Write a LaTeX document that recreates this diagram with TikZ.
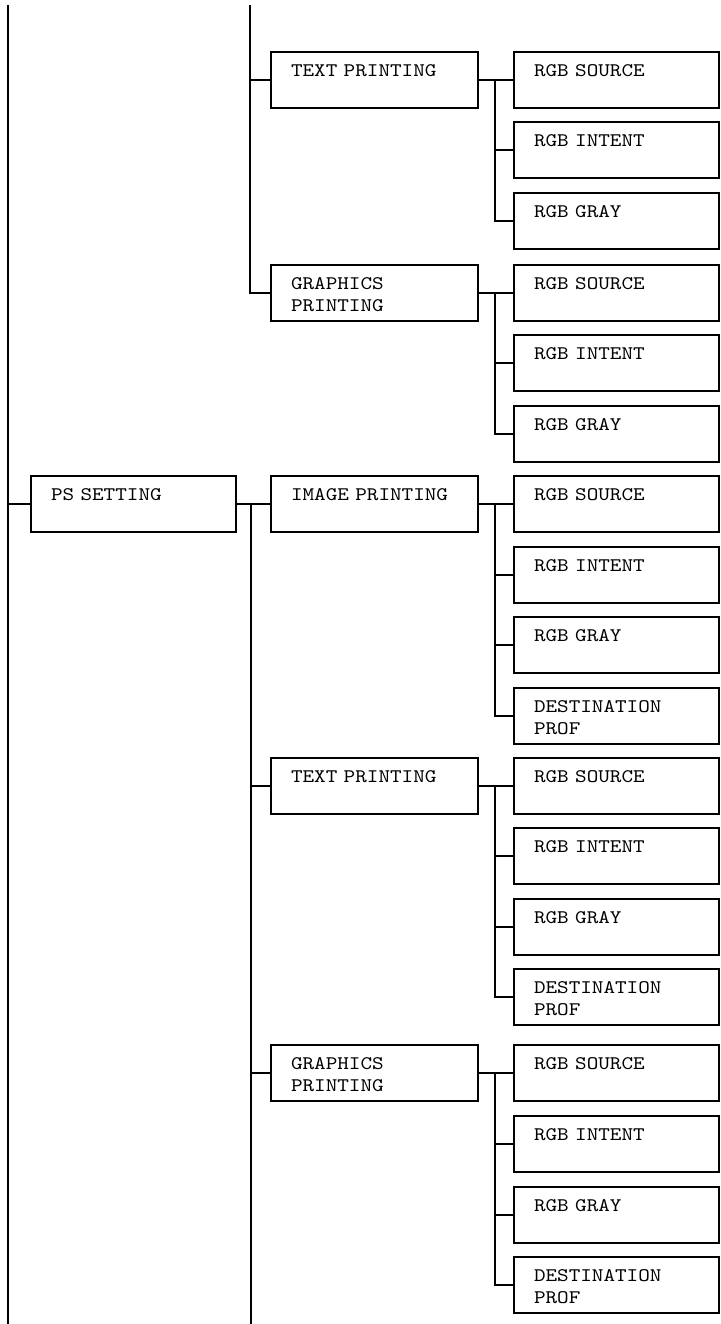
\documentclass[tikz,border=0pt]{standalone}
\usepackage{fontspec}
\newfontfamily\cajafont[FakeStretch=1.15]{lmmono10-regular.otf}

\tikzset{
  caja/.style={draw, line width=1pt, anchor=north west,
    inner xsep=10pt, inner ysep=0pt, text height=12pt, text depth=16pt,
    align=left, text width=82.5pt,
    font=\cajafont\fontsize{9.6pt}{11.25pt}\selectfont},
  cajaancha/.style={caja, text width=83.5pt},
  rama/.style={line width=1pt},
}

\begin{document}
\begin{tikzpicture}[x=0.5pt, y=-0.5pt]
    \def\xa{8}     % línea izquierda
    \def\xb{30}    % PS SETTING
    \def\xc{270}   % segundo nivel
    \def\xd{513}   % tercer nivel
    \useasboundingbox (0,0) rectangle (720,1324);

    % extremos libres de las líneas verticales
    \coordinate (ltop) at (\xa,5);
    \coordinate (lbot) at (\xa,1324);
    \coordinate (mtop) at (250,5);
    \coordinate (mbot) at (250,1324);

    % bloque superior: TEXT PRINTING
    \node[cajaancha] (tp1) at (\xc,51) {TEXT PRINTING};
    \node[caja] (a1) at (\xd,51)  {RGB SOURCE};
    \node[caja] (a2) at (\xd,121) {RGB INTENT};
    \node[caja] (a3) at (\xd,192) {RGB GRAY};

    % bloque superior: GRAPHICS PRINTING
    \node[cajaancha] (gp1) at (\xc,264) {GRAPHICS\\PRINTING};
    \node[caja] (b1) at (\xd,264) {RGB SOURCE};
    \node[caja] (b2) at (\xd,334) {RGB INTENT};
    \node[caja] (b3) at (\xd,405) {RGB GRAY};

    % PS SETTING
    \node[caja] (ps) at (\xb,475) {PS SETTING};

    % IMAGE PRINTING
    \node[cajaancha] (ip) at (\xc,475) {IMAGE PRINTING};
    \node[caja] (c1) at (\xd,475) {RGB SOURCE};
    \node[caja] (c2) at (\xd,546) {RGB INTENT};
    \node[caja] (c3) at (\xd,616) {RGB GRAY};
    \node[caja] (c4) at (\xd,687) {DESTINATION\\PROF};

    % TEXT PRINTING
    \node[cajaancha] (tp2) at (\xc,757) {TEXT PRINTING};
    \node[caja] (d1) at (\xd,757) {RGB SOURCE};
    \node[caja] (d2) at (\xd,827) {RGB INTENT};
    \node[caja] (d3) at (\xd,898) {RGB GRAY};
    \node[caja] (d4) at (\xd,968) {DESTINATION\\PROF};

    % GRAPHICS PRINTING
    \node[cajaancha] (gp2) at (\xc,1044) {GRAPHICS\\PRINTING};
    \node[caja] (e1) at (\xd,1044) {RGB SOURCE};
    \node[caja] (e2) at (\xd,1115) {RGB INTENT};
    \node[caja] (e3) at (\xd,1186) {RGB GRAY};
    \node[caja] (e4) at (\xd,1256) {DESTINATION\\PROF};

    % línea izquierda y PS SETTING
    \draw[rama] (ltop) -- (lbot);
    \draw[rama] (ltop |- ps.west) -- (ps.west);

    % línea central, parte de arriba
    \draw[rama] (mtop) |- (gp1.west);
    \draw[rama] (mtop |- tp1.west) -- (tp1.west);

    % línea central, parte de abajo
    \draw[rama] (ps.east) -- (ip.west) coordinate[pos=0.43] (psb);
    \draw[rama] (psb) -- (psb |- mbot);
    \draw[rama] (psb) |- (tp2.west);
    \draw[rama] (psb) |- (gp2.west);

    % ramas al tercer nivel
    \draw[rama] (tp1.east) -- (a1.west) coordinate[pos=0.47] (tp1b);
    \foreach \c in {a2,a3} \draw[rama] (tp1b) |- (\c.west);
    \draw[rama] (gp1.east) -- (b1.west) coordinate[pos=0.47] (gp1b);
    \foreach \c in {b2,b3} \draw[rama] (gp1b) |- (\c.west);
    \draw[rama] (ip.east) -- (c1.west) coordinate[pos=0.47] (ipb);
    \foreach \c in {c2,c3,c4} \draw[rama] (ipb) |- (\c.west);
    \draw[rama] (tp2.east) -- (d1.west) coordinate[pos=0.47] (tp2b);
    \foreach \c in {d2,d3,d4} \draw[rama] (tp2b) |- (\c.west);
    \draw[rama] (gp2.east) -- (e1.west) coordinate[pos=0.47] (gp2b);
    \foreach \c in {e2,e3,e4} \draw[rama] (gp2b) |- (\c.west);
\end{tikzpicture}
\end{document}
